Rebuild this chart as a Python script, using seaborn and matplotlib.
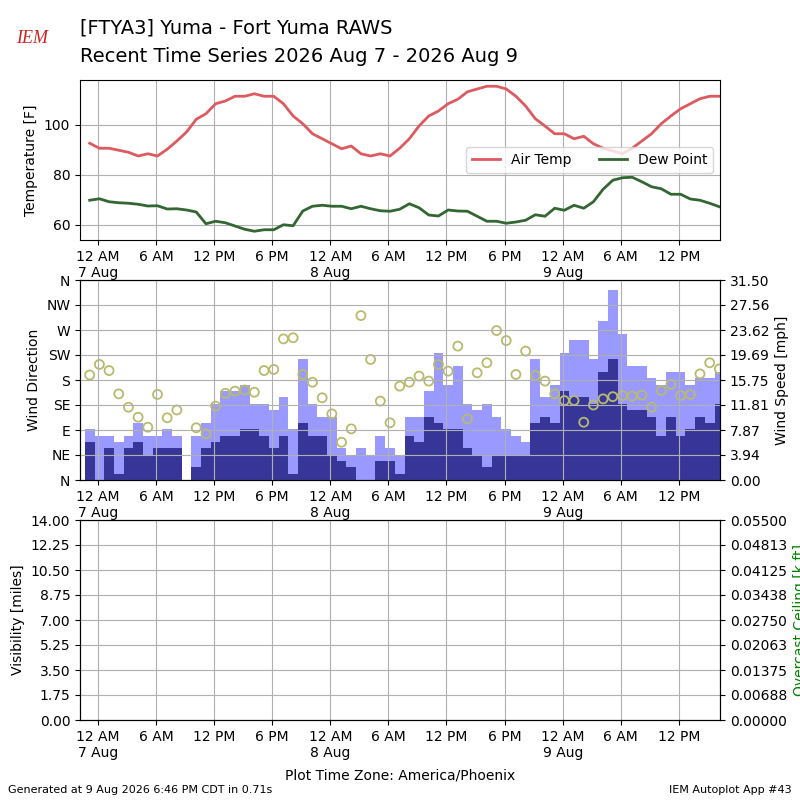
import numpy as np
import pandas as pd
import matplotlib
matplotlib.use("Agg")
import matplotlib.pyplot as plt
import matplotlib.dates as mdates
from matplotlib.ticker import FuncFormatter
import seaborn as sns

# hourly RAWS observations, local time (America/Phoenix)
valid = pd.date_range("2026-08-06 23:10", periods=66, freq="h")

air_temp = [92.7, 90.7, 90.7, 89.9, 89.1, 87.6, 88.5, 87.6, 90.3, 93.6,
            97.2, 102.3, 104.5, 108.5, 109.6, 111.5, 111.5, 112.5, 111.5, 111.5,
            108.5, 103.6, 100.5, 96.5, 94.5, 92.5, 90.5, 91.6, 88.5, 87.6,
            88.5, 87.6, 90.7, 94.5, 99.6, 103.6, 105.6, 108.5, 110.3, 113.3,
            114.4, 115.5, 115.5, 114.4, 111.5, 107.6, 102.5, 99.6, 96.5, 96.5,
            94.5, 95.5, 92.5, 90.7, 89.6, 88.5, 90.7, 93.6, 96.5, 100.5,
            103.6, 106.5, 108.5, 110.5, 111.5, 111.5]

dew_point = [69.9, 70.5, 69.3, 68.9, 68.7, 68.3, 67.6, 67.7, 66.4, 66.5,
             66.0, 65.2, 60.5, 61.5, 60.9, 59.6, 58.3, 57.5, 58.1, 58.1,
             60.1, 59.7, 65.6, 67.5, 67.9, 67.5, 67.5, 66.5, 67.5, 66.5,
             65.7, 65.5, 66.3, 68.5, 66.9, 64.0, 63.6, 66.0, 65.6, 65.5,
             63.5, 61.5, 61.5, 60.7, 61.2, 61.9, 64.1, 63.5, 66.7, 65.9,
             67.9, 66.7, 69.3, 74.3, 77.9, 78.9, 79.1, 77.3, 75.3, 74.5,
             72.3, 72.3, 70.4, 69.9, 68.7, 67.3]

wind_gust = [8, 7, 7, 6, 7, 9, 7, 7, 8, 7,
             np.nan, 7, 9, 12, 14, 14, 15, 12, 12, 11,
             13, 8, 19, 12, 10, 10, 5, 4, 5, 4,
             7, 5, 4, 10, 10, 14, 20, 15, 18, 12,
             11, 12, 10, 8, 7, 6, 19, 13, 15, 20,
             22, 22, 19, 25, 30, 23, 18, 18, 16, 15,
             17, 17, 15, 16, 16, 17]

wind_speed = [6, 0, 5, 1, 5, 6, 4, 5, 5, 5,
              np.nan, 2, 5, 6, 7, 7, 8, 8, 7, 5,
              7, 1, 9, 7, 7, 4, 3, 2, 0, 0,
              3, 3, 1, 7, 6, 10, 9, 8, 8, 5,
              4, 2, 4, 4, 4, 4, 9, 10, 9, 14,
              13, 13, 12, 17, 19, 12, 11, 11, 10, 7,
              10, 7, 8, 10, 9, 12]

wind_dir = [189, 208, 197, 155, 131, 113, 95, 154, 112, 126,
            np.nan, 94, 83, 133, 156, 160, 162, 158, 197, 199,
            254, 256, 190, 176, 148, 119, 68, 92, 296, 217,
            142, 103, 169, 176, 187, 178, 208, 196, 241, 110,
            193, 211, 269, 251, 190, 232, 188, 178, 155, 143,
            143, 104, 135, 146, 150, 152, 151, 153, 131, 161,
            172, 152, 154, 191, 211, 200]

dir_ticks = [0, 45, 90, 135, 180, 225, 270, 315, 360]
dir_labels = ["N", "NE", "E", "SE", "S", "SW", "W", "NW", "N"]
speed_max = 31.5
speed_labels = ["0.00", "3.94", "7.87", "11.81", "15.75", "19.69", "23.62", "27.56", "31.50"]
vis_max = 14.0
ceil_max = 0.055
ceil_labels = ["0.00000", "0.00688", "0.01375", "0.02063", "0.02750",
               "0.03438", "0.04125", "0.04813", "0.05500"]

df = pd.DataFrame({"valid": valid, "tmpf": air_temp, "dwpf": dew_point,
                   "gust": wind_gust, "sped": wind_speed, "drct": wind_dir})


def time_fmt(x, pos=None):
    dt = mdates.num2date(x)
    label = "%d %s" % ((dt.hour % 12) or 12, "AM" if dt.hour < 12 else "PM")
    if dt.hour == 0:
        label += "\n%d %s" % (dt.day, dt.strftime("%b"))
    return label


fig = plt.figure(figsize=(8, 8), dpi=100)

# temperature panel
ax1 = fig.add_axes([0.1, 0.7, 0.8, 0.2])
sns.lineplot(data=df, x="valid", y="tmpf", ax=ax1, color="#dd5a60", linewidth=2, label="Air Temp")
sns.lineplot(data=df, x="valid", y="dwpf", ax=ax1, color="#336633", linewidth=2, label="Dew Point")
ax1.set_ylim(54, 118)
ax1.set_ylabel("Temperature [F]")
ax1.set_xlabel("")
ax1.grid(True)
ax1.legend(loc="center right", ncol=2, fontsize=10)

# wind panel
ax2 = fig.add_axes([0.1, 0.4, 0.8, 0.25], sharex=ax1)
ax2b = ax2.twinx()
ax2b.bar(df["valid"], df["gust"], width=1 / 24.0, color="#9999ff", zorder=1)
ax2b.bar(df["valid"], df["sped"], width=1 / 24.0, color="#373698", zorder=1)
ax2b.set_ylim(0, speed_max)
ax2b.set_yticks(np.linspace(0, speed_max, len(speed_labels)))
ax2b.set_yticklabels(speed_labels)
ax2b.set_ylabel("Wind Speed [mph]")
ax2.set_zorder(ax2b.get_zorder() + 1)
ax2.patch.set_visible(False)
sns.scatterplot(data=df, x="valid", y="drct", ax=ax2, marker="o", s=42,
                color="#b8bb6c", facecolors="none", edgecolor="#b8bb6c", linewidth=1.3)
ax2.set_ylim(0, 360)
ax2.set_yticks(dir_ticks)
ax2.set_yticklabels(dir_labels)
ax2.set_ylabel("Wind Direction")
ax2.set_xlabel("")
ax2.grid(True)

# visibility / ceiling panel
ax3 = fig.add_axes([0.1, 0.1, 0.8, 0.25], sharex=ax1)
ax3b = ax3.twinx()
ax3.set_ylim(0, vis_max)
ax3.set_yticks(np.linspace(0, vis_max, 9))
ax3.yaxis.set_major_formatter(FuncFormatter(lambda v, p: "%.2f" % v))
ax3.set_ylabel("Visibility [miles]")
ax3b.set_ylim(0, ceil_max)
ax3b.set_yticks(np.linspace(0, ceil_max, len(ceil_labels)))
ax3b.set_yticklabels(ceil_labels)
ax3b.set_ylabel("Overcast Ceiling [k ft]", color="g")
ax3.grid(True)

ax1.set_xlim(valid[0] - pd.Timedelta(hours=1), valid[-1] + pd.Timedelta(minutes=4))
for ax in (ax1, ax2, ax3):
    ax.xaxis.set_major_locator(mdates.HourLocator(byhour=[0, 6, 12, 18]))
    ax.xaxis.set_major_formatter(FuncFormatter(time_fmt))
    ax.tick_params(axis="x", labelbottom=True)

fig.text(0.1, 0.965, "[FTYA3] Yuma - Fort Yuma RAWS", fontsize=14, va="center")
fig.text(0.1, 0.93, "Recent Time Series 2026 Aug 7 - 2026 Aug 9", fontsize=14, va="center")
fig.text(0.02, 0.952, "IEM", color="#cc2222", fontsize=13, fontstyle="italic",
         family="Liberation Serif", va="center")
fig.text(0.5, 0.031, "Plot Time Zone: America/Phoenix", ha="center", va="center", fontsize=10)
fig.text(0.01, 0.013, "Generated at 9 Aug 2026 6:46 PM CDT in 0.71s", fontsize=8, va="center")
fig.text(0.99, 0.013, "IEM Autoplot App #43", fontsize=8, ha="right", va="center")

fig.savefig("out.png", dpi=100)
